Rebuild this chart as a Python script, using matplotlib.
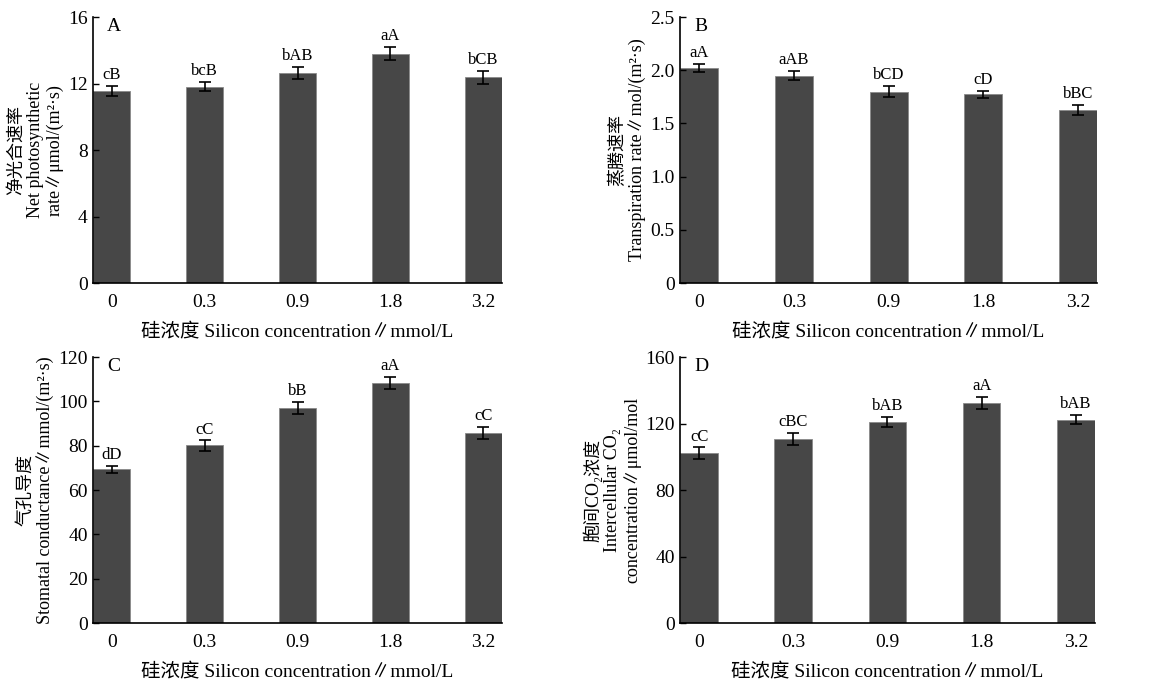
import numpy as np
import matplotlib
matplotlib.use("Agg")
import matplotlib.pyplot as plt

plt.rcParams['font.family'] = ['Liberation Serif', 'Noto Sans CJK SC', 'DejaVu Serif']

# silicon levels (mmol/L)
conc = ['0', '0.3', '0.9', '1.8', '3.2']

# A: net photosynthetic rate
pn = [11.58, 11.82, 12.63, 13.79, 12.38]
pn_err = [0.30, 0.28, 0.36, 0.40, 0.38]
pn_sig = ['cB', 'bcB', 'bAB', 'aA', 'bCB']

# B: transpiration rate
tr = [2.02, 1.95, 1.80, 1.773, 1.626]
tr_err = [0.04, 0.045, 0.053, 0.035, 0.05]
tr_sig = ['aA', 'aAB', 'bCD', 'cD', 'bBC']

# C: stomatal conductance
gs = [69.3, 80.1, 97.2, 108.3, 85.8]
gs_err = [1.6, 2.3, 2.7, 2.85, 2.85]
gs_sig = ['dD', 'cC', 'bB', 'aA', 'cC']

# D: intercellular CO2
ci = [102.0, 110.8, 121.0, 132.2, 122.4]
ci_err = [3.6, 3.6, 2.8, 3.6, 2.8]
ci_sig = ['cC', 'cBC', 'bAB', 'aA', 'bAB']

xlab = '硅浓度 Silicon concentration∥mmol/L'

panels = [
    ('A', pn, pn_err, pn_sig, [0, 4, 8, 12, 16], ['0', '4', '8', '12', '16'],
     '净光合速率\nNet photosynthetic\nrate∥μmol/(m²·s)', [0.081, 0.585, 0.355, 0.390]),
    ('B', tr, tr_err, tr_sig, [0, 0.5, 1.0, 1.5, 2.0, 2.5], ['0', '0.5', '1.0', '1.5', '2.0', '2.5'],
     '蒸腾速率\nTranspiration rate∥mol/(m²·s)', [0.591, 0.585, 0.362, 0.390]),
    ('C', gs, gs_err, gs_sig, [0, 20, 40, 60, 80, 100, 120], ['0', '20', '40', '60', '80', '100', '120'],
     '气孔导度\nStomatal conductance∥mmol/(m²·s)', [0.081, 0.0865, 0.355, 0.390]),
    ('D', ci, ci_err, ci_sig, [0, 40, 80, 120, 160], ['0', '40', '80', '120', '160'],
     '胞间CO₂浓度\nIntercellular CO₂\nconcentration∥μmol/mol', [0.591, 0.0865, 0.360, 0.390]),
]

fig = plt.figure(figsize=(11.51, 6.82), dpi=100)
x = np.arange(len(conc))
w = 0.4

for letter, vals, errs, sig, yt, ytl, ylab, pos in panels:
    ax = fig.add_axes(pos)
    ax.bar(x, vals, width=w, color='#474747', edgecolor='#8a8a8a', linewidth=0.6,
           yerr=errs, error_kw=dict(ecolor='black', elinewidth=1.2, capsize=4, capthick=1.2))
    for xi, v, e, s in zip(x, vals, errs, sig):
        ax.annotate(s, (xi, v + e), xytext=(0, 2), textcoords='offset points',
                    ha='center', va='bottom', fontsize=12)
    ax.set_xlim(-w / 2, len(conc) - 1 + w / 2)
    ax.set_ylim(yt[0], yt[-1])
    ax.set_yticks(yt)
    ax.set_yticklabels(ytl)
    ax.set_xticks(x)
    ax.set_xticklabels(conc)
    ax.tick_params(axis='y', direction='in', length=4, width=1, labelsize=14, pad=4)
    ax.tick_params(axis='x', length=0, labelsize=14, pad=8)
    ax.spines['top'].set_visible(False)
    ax.spines['right'].set_visible(False)
    ax.spines['left'].set_linewidth(1.2)
    ax.spines['bottom'].set_linewidth(1.2)
    ax.set_xlabel(xlab, fontsize=14, labelpad=8)
    ax.set_ylabel(ylab, fontsize=13, labelpad=3, linespacing=1.15)
    ax.text(0.05, 0.965, letter, transform=ax.transAxes, fontsize=14, ha='center', va='center')

fig.savefig('out.png', dpi=100)
